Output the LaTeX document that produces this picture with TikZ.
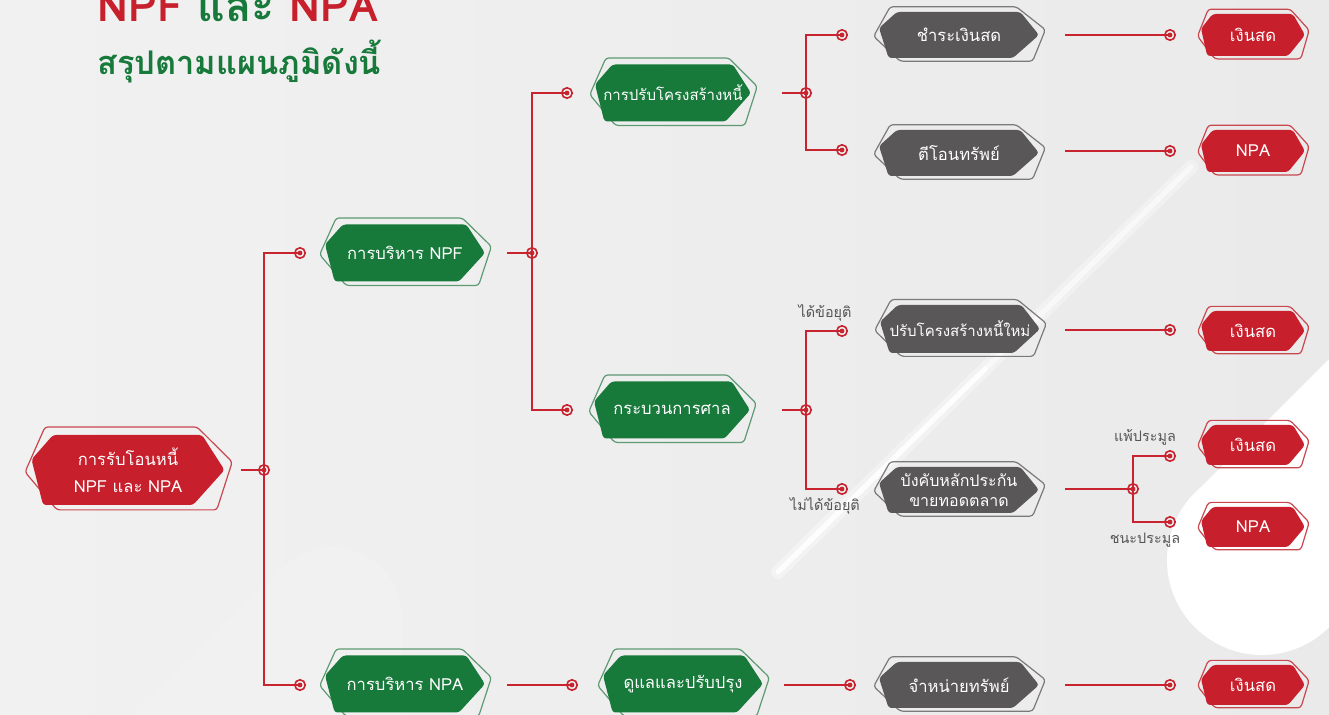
\documentclass[tikz,border=0pt]{standalone}
\usepackage{fontspec}
\newfontfamily\thai[Script=Thai]{Loma}
\usetikzlibrary{calc}
\definecolor{cred}{HTML}{C71F2B}
\definecolor{cgreen}{HTML}{17793A}
\definecolor{cgray}{HTML}{595758}
\definecolor{lred}{HTML}{C9474F}
\definecolor{lgreen}{HTML}{5E9A72}
\definecolor{lgray}{HTML}{7A7A7A}
\definecolor{bgbase}{HTML}{EAEAEB}
\definecolor{bglight}{HTML}{F1F1F2}
\definecolor{linkred}{HTML}{C8232E}
\definecolor{labgray}{HTML}{555555}
\tikzset{
  redfill/.style={fill=cred, rounded corners=1.5pt},
  greenfill/.style={fill=cgreen, rounded corners=1.5pt},
  grayfill/.style={fill=cgray, rounded corners=1.5pt},
  redline/.style={draw=lred, line width=0.6pt, rounded corners=1.5pt},
  greenline/.style={draw=lgreen, line width=0.6pt, rounded corners=1.5pt},
  grayline/.style={draw=lgray, line width=0.6pt, rounded corners=1.5pt},
  tagtext/.style={text=white, font=\thai\fontsize{8.3}{13.5}\selectfont, align=center, inner sep=0pt},
  longtext/.style={font=\thai\fontsize{7.5}{9}\selectfont},
  link/.style={draw=linkred, line width=1.2pt},
  ring/.style={draw=linkred, line width=0.8pt},
  smalllab/.style={text=labgray, font=\thai\fontsize{7.2}{8}\selectfont, inner sep=0pt},
}
% #1 name, #2 x, #3 y, #4 half width, #5 half height, #6 colour set, #7 text, #8 extra text options
\newcommand\mytag[8]{%
  \begin{scope}[shift={(#2,#3)}]
    \path[#6line] ({-0.86*#4},{-1.23*#5}) -- ({0.715*#4},{-1.23*#5}) -- ({1.08*#4},{-0.23*#5})
      -- ({0.92*#4},{1.14*#5}) -- ({-0.736*#4},{1.14*#5}) -- ({-1.067*#4},{0.057*#5}) -- cycle;
    \path[#6fill] ({-0.777*#4},{-#5}) -- ({0.767*#4},{-#5}) -- (#4,0)
      -- ({0.674*#4},#5) -- ({-0.88*#4},#5) -- (-#4,{-0.3*#5}) -- cycle;
  \end{scope}
  \node[tagtext, minimum width=#4pt, minimum height=#5pt, #8] (#1) at (#2,#3) {#7};
}
\newcommand\mydot[1]{\path[ring] (#1) circle (2.6pt); \fill[linkred] (#1) circle (1.2pt);}
\begin{document}
\begin{tikzpicture}[x=0.5pt, y=-0.5pt]
\path[use as bounding box, clip] (0,0) rectangle (1329,715);
% background
\shade[left color=bglight, right color=bgbase] (0,0) rectangle (1329,715);
\fill[bglight] (332,617) circle (35pt);
\fill[bglight] (282,567) -- (332,617) -- (402,617) -- (402,715) -- (130,715) -- cycle;
\fill[white] (1262,560) circle (47.5pt);
\fill[white] (1195,493) -- (1329,359) -- (1329,627) -- (1262,560) -- cycle;
\draw[white, opacity=0.35, line width=7pt, line cap=round] (778,572) -- (1191,167);
\draw[white, opacity=0.9, line width=2.6pt, line cap=round] (778,572) -- (985,369);
\draw[white, opacity=0.5, line width=2.6pt, line cap=round] (985,369) -- (1191,167);
% title
\node[anchor=base west, inner sep=0pt, font=\thai\bfseries\fontsize{21.5}{24}\selectfont] (t1) at (97,22)
  {\textcolor{cred}{NPF} \textcolor{cgreen}{และ} \textcolor{cred}{NPA}};
\node[anchor=base west, inner sep=0pt, text=cgreen, font=\thai\bfseries\fontsize{16.3}{20}\selectfont] (t2) at (97,75)
  {สรุปตามแผนภูมิดังนี้};
% nodes
\mytag{root}{128}{470}{96.5}{35}{red}{การรับโอนหนี้\\NPF และ NPA}{}
\mytag{npf}{405}{253}{80}{28.5}{green}{การบริหาร NPF}{}
\mytag{npa}{405}{684}{80}{28.5}{green}{การบริหาร NPA}{}
\mytag{prh}{673}{93}{78}{28.5}{green}{การปรับโครงสร้างหนี้}{longtext}
\mytag{court}{672}{410}{78}{28.5}{green}{กระบวนการศาล}{}
\mytag{care}{683}{684}{80}{28.5}{green}{ดูแลและปรับปรุง}{}
\mytag{pay}{959}{35}{80}{23}{gray}{ชำระเงินสด}{}
\mytag{trf}{959}{153}{80}{23}{gray}{ตีโอนทรัพย์}{}
\mytag{newprh}{960}{329}{80}{24}{gray}{ปรับโครงสร้างหนี้ใหม่}{longtext}
\mytag{enf}{959}{490}{80}{23}{gray}{บังคับหลักประกัน\\ขายทอดตลาด}{font=\thai\fontsize{8}{10}\selectfont}
\mytag{sell}{959}{685}{80}{23}{gray}{จำหน่ายทรัพย์}{}
\mytag{cash1}{1253}{35}{52}{21}{red}{เงินสด}{}
\mytag{npa1}{1253}{151}{52}{21}{red}{NPA}{}
\mytag{cash2}{1253}{331}{52}{20}{red}{เงินสด}{}
\mytag{cash3}{1253}{445}{52}{20}{red}{เงินสด}{}
\mytag{npa2}{1253}{527}{52}{20}{red}{NPA}{}
\mytag{cash4}{1253}{685}{52}{20}{red}{เงินสด}{}
% junctions and dots
\coordinate (j0) at (264,470);
\coordinate (j1) at (532,253);
\coordinate (j2) at (806,93);
\coordinate (j3) at (806,410);
\coordinate (j4) at (1133,489);
\coordinate (dnpf) at (300,253);
\coordinate (dnpa) at (300,685);
\coordinate (dprh) at (567,93);
\coordinate (dcourt) at (567,410);
\coordinate (dcare) at (572,685);
\coordinate (dpay) at (842,35);
\coordinate (dtrf) at (842,150);
\coordinate (dnewprh) at (842,331);
\coordinate (denf) at (842,489);
\coordinate (dsell) at (850,685);
\coordinate (dcash1) at (1170,35);
\coordinate (dnpa1) at (1170,151);
\coordinate (dcash2) at (1170,330);
\coordinate (dcash3) at (1170,456);
\coordinate (dnpa2) at (1170,522);
\coordinate (dcash4) at (1170,685);
% connectors
\draw[link] ($(root.east)+(16,0)$) -- (j0);
\draw[link] (dnpf) -| (j0) |- (dnpa);
\draw[link] ($(npf.east)+(22,0)$) -- (j1);
\draw[link] (dprh) -| (j1) |- (dcourt);
\draw[link] ($(prh.east)+(31,0)$) -- (j2);
\draw[link] (dpay) -| (j2) |- (dtrf);
\draw[link] ($(court.east)+(32,0)$) -- (j3);
\draw[link] (dnewprh) -| (j3) |- (denf);
\draw[link] ($(npa.east)+(22,1)$) -- (dcare);
\draw[link] ($(care.east)+(21,1)$) -- (dsell);
\draw[link] ($(pay.east)+(26,0)$) -- (dcash1);
\draw[link] ($(trf.east)+(26,-2)$) -- (dnpa1);
\draw[link] ($(newprh.east)+(25,1)$) -- (dcash2);
\draw[link] ($(enf.east)+(26,-1)$) -- (j4);
\draw[link] (dcash3) -| (j4) |- (dnpa2);
\draw[link] ($(sell.east)+(26,0)$) -- (dcash4);
\foreach \p in {j0,j1,j2,j3,j4,dnpf,dnpa,dprh,dcourt,dcare,dpay,dtrf,dnewprh,denf,dsell,dcash1,dnpa1,dcash2,dcash3,dnpa2,dcash4} {\mydot{\p}}
% branch labels
\node[smalllab] (l1) at (825,313) {ได้ข้อยุติ};
\node[smalllab] (l2) at (825,506) {ไม่ได้ข้อยุติ};
\node[smalllab] (l3) at (1145,437) {แพ้ประมูล};
\node[smalllab] (l4) at (1145,540) {ชนะประมูล};
\end{tikzpicture}
\end{document}
